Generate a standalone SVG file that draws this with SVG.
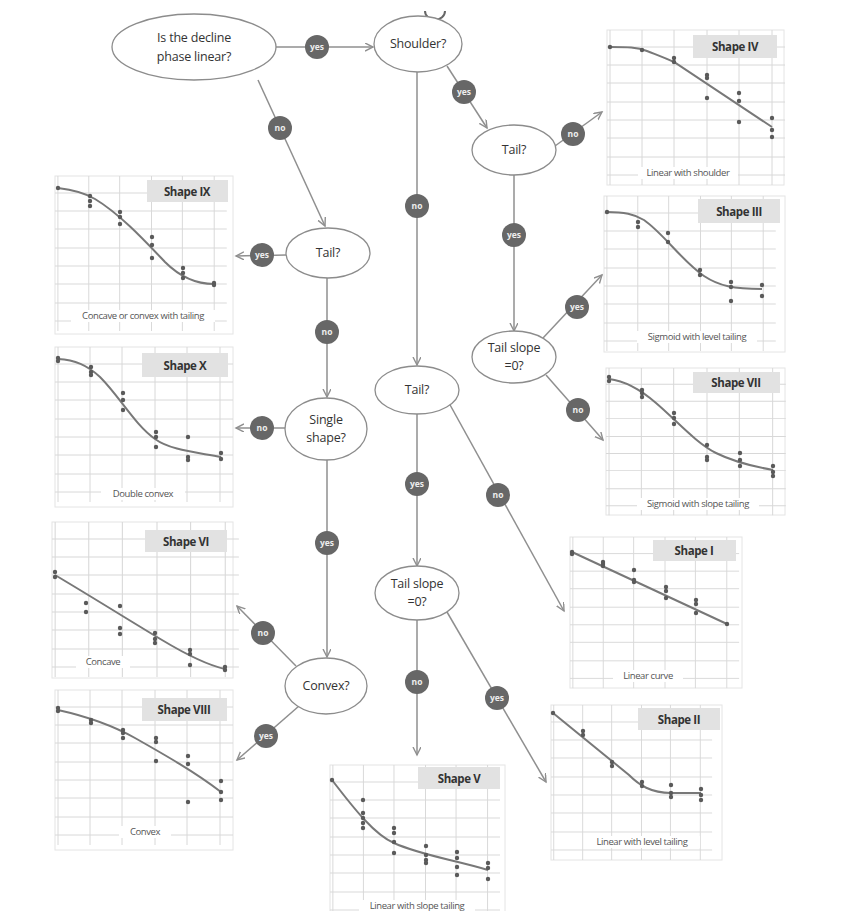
<svg xmlns="http://www.w3.org/2000/svg" xmlns:xlink="http://www.w3.org/1999/xlink" width="849" height="911" viewBox="0 0 849 911">
<style>
text{font-family:"Open Sans","Liberation Sans",sans-serif}
.node ellipse{fill:#fff;stroke:#8c8c8c;stroke-width:1.3}
.node text{font-size:12.5px;fill:#333;text-anchor:middle;letter-spacing:-0.2px}
.edge{stroke:#8f8f8f;stroke-width:1.5;fill:none;marker-end:url(#arr)}
.lbl circle{fill:#676767}
.lbl text{fill:#eee;font-size:8.5px;font-weight:700;text-anchor:middle}
.frame{fill:#fff;stroke:#e4e4e4;stroke-width:1}
.gl{stroke:#d8d8d8;stroke-width:1;fill:none}
.tbox{fill:#e2e2e2}
.ttl{font-size:11.5px;font-weight:700;fill:#333;text-anchor:middle;letter-spacing:-0.4px}
.curve{fill:none;stroke:#787878;stroke-width:2}
.pts circle{fill:#5a5a5a}
.capbg{fill:#fff}
.cap{font-size:9.5px;fill:#555;text-anchor:middle;letter-spacing:-0.4px}
</style>
<defs>
<marker id="arr" markerWidth="10" markerHeight="10" refX="8" refY="4" orient="auto" markerUnits="userSpaceOnUse">
<path d="M0,0 L8,4 L0,8" fill="none" stroke="#8f8f8f" stroke-width="1.4"/>
</marker>
<path id="gl" class="gl" d="M3,0V155 M35,0V155 M67,0V155 M100,0V155 M132,0V155 M165,0V155 M0,17H178 M0,35H178 M0,53H178 M0,72H178 M0,90H178 M0,108H178 M0,127H178 M0,145H178"/>
</defs>
<rect width="849" height="911" fill="#fff"/>
<path d="M425,11 A10,9 0 0 0 445,11" fill="none" stroke="#666" stroke-width="2"/>

<!-- charts -->
<g id="shape-iv" transform="translate(607,30)">
<rect class="frame" width="177" height="155"/><use xlink:href="#gl"/>
<rect class="tbox" x="86" y="5" width="84" height="23"/><text class="ttl" x="128" y="21">Shape IV</text>
<rect class="capbg" x="31" y="137" width="100" height="12"/><text class="cap" x="81" y="146">Linear with shoulder</text>
<path class="curve" d="M3,17 C20,17 30,17 40,21 C50,25 58,28 67,32 L165,97"/>
<g class="pts"><circle cx="3" cy="17" r="2.2"/><circle cx="35" cy="20" r="2.2"/><circle cx="67" cy="28" r="2.2"/><circle cx="67" cy="32" r="2.2"/><circle cx="100" cy="45" r="2.2"/><circle cx="100" cy="48" r="2.2"/><circle cx="100" cy="68" r="2.2"/><circle cx="132" cy="63" r="2.2"/><circle cx="132" cy="71" r="2.2"/><circle cx="132" cy="92" r="2.2"/><circle cx="165" cy="88" r="2.2"/><circle cx="165" cy="100" r="2.2"/><circle cx="165" cy="107" r="2.2"/></g>
</g>

<g id="shape-iii" transform="translate(604,196)">
<rect class="frame" width="181" height="156"/><use xlink:href="#gl" transform="scale(0.965,1)"/>
<rect class="tbox" x="94" y="3" width="82" height="24"/><text class="ttl" x="135" y="20">Shape III</text>
<rect class="capbg" x="33" y="135" width="120" height="12"/><text class="cap" x="93" y="144">Sigmoid with level tailing</text>
<path class="curve" d="M3,16 C20,16 30,18 40,24 C60,38 78,65 100,80 C115,90 130,93 158,93"/>
<g class="pts"><circle cx="3" cy="16" r="2.2"/><circle cx="34" cy="26" r="2.2"/><circle cx="34" cy="31" r="2.2"/><circle cx="64" cy="37" r="2.2"/><circle cx="64" cy="46" r="2.2"/><circle cx="96" cy="74" r="2.2"/><circle cx="96" cy="79" r="2.2"/><circle cx="127" cy="86" r="2.2"/><circle cx="127" cy="91" r="2.2"/><circle cx="127" cy="105" r="2.2"/><circle cx="158" cy="89" r="2.2"/><circle cx="158" cy="100" r="2.2"/></g>
</g>

<g id="shape-vii" transform="translate(606,368)">
<rect class="frame" width="179" height="147"/><use xlink:href="#gl" transform="scale(1.01,0.95)"/>
<rect class="tbox" x="87" y="4" width="87" height="21"/><text class="ttl" x="130" y="19">Shape VII</text>
<rect class="capbg" x="31" y="130" width="122" height="12"/><text class="cap" x="92" y="139">Sigmoid with slope tailing</text>
<path class="curve" d="M3,11 C20,13 35,22 50,35 C70,52 90,75 110,85 C130,95 150,99 167,102"/>
<g class="pts"><circle cx="3" cy="9" r="2.2"/><circle cx="3" cy="13" r="2.2"/><circle cx="36" cy="22" r="2.2"/><circle cx="36" cy="25" r="2.2"/><circle cx="36" cy="29" r="2.2"/><circle cx="68" cy="45" r="2.2"/><circle cx="68" cy="50" r="2.2"/><circle cx="68" cy="56" r="2.2"/><circle cx="101" cy="77" r="2.2"/><circle cx="101" cy="89" r="2.2"/><circle cx="101" cy="92" r="2.2"/><circle cx="134" cy="85" r="2.2"/><circle cx="134" cy="92" r="2.2"/><circle cx="134" cy="98" r="2.2"/><circle cx="167" cy="98" r="2.2"/><circle cx="167" cy="104" r="2.2"/><circle cx="167" cy="108" r="2.2"/></g>
</g>

<g id="shape-ix" transform="translate(55,176)">
<rect class="frame" width="178" height="158"/><use xlink:href="#gl" transform="scale(0.965,1)"/>
<rect class="tbox" x="92" y="4" width="81" height="22"/><text class="ttl" x="132" y="20">Shape IX</text>
<rect class="capbg" x="16" y="134" width="144" height="12"/><text class="cap" x="88" y="143">Concave or convex with tailing</text>
<path class="curve" d="M3,12 C20,14 30,17 40,23 C65,38 90,65 110,86 C125,101 140,108 159,108"/>
<g class="pts"><circle cx="3" cy="12" r="2.2"/><circle cx="35" cy="20" r="2.2"/><circle cx="35" cy="25" r="2.2"/><circle cx="35" cy="30" r="2.2"/><circle cx="65" cy="36" r="2.2"/><circle cx="65" cy="41" r="2.2"/><circle cx="65" cy="48" r="2.2"/><circle cx="97" cy="61" r="2.2"/><circle cx="97" cy="69" r="2.2"/><circle cx="97" cy="82" r="2.2"/><circle cx="128" cy="92" r="2.2"/><circle cx="128" cy="97" r="2.2"/><circle cx="128" cy="102" r="2.2"/><circle cx="159" cy="107" r="2.2"/><circle cx="159" cy="109" r="2.2"/></g>
</g>

<g id="shape-x" transform="translate(55,347)">
<rect class="frame" width="178" height="160"/><use xlink:href="#gl"/>
<rect class="tbox" x="87" y="6" width="86" height="24"/><text class="ttl" x="130" y="23">Shape X</text>
<rect class="capbg" x="46" y="141" width="84" height="12"/><text class="cap" x="88" y="150">Double convex</text>
<path class="curve" d="M3,12 C20,13 32,18 45,30 C65,50 80,78 100,92 C115,103 140,105 166,110"/>
<g class="pts"><circle cx="3" cy="11" r="2.2"/><circle cx="3" cy="14" r="2.2"/><circle cx="36" cy="20" r="2.2"/><circle cx="36" cy="25" r="2.2"/><circle cx="36" cy="28" r="2.2"/><circle cx="68" cy="46" r="2.2"/><circle cx="68" cy="53" r="2.2"/><circle cx="68" cy="63" r="2.2"/><circle cx="101" cy="85" r="2.2"/><circle cx="101" cy="90" r="2.2"/><circle cx="101" cy="100" r="2.2"/><circle cx="133" cy="90" r="2.2"/><circle cx="133" cy="110" r="2.2"/><circle cx="133" cy="113" r="2.2"/><circle cx="166" cy="106" r="2.2"/><circle cx="166" cy="112" r="2.2"/></g>
</g>

<g id="shape-vi" transform="translate(52,522)">
<rect class="frame" width="181" height="156"/><use xlink:href="#gl" transform="scale(1.05,1)"/>
<rect class="tbox" x="93" y="8" width="82" height="22"/><text class="ttl" x="134" y="24">Shape VI</text>
<rect class="capbg" x="24" y="134" width="54" height="12"/><text class="cap" x="51" y="143">Concave</text>
<path class="curve" d="M3,53 C40,75 80,100 110,118 C135,133 155,143 173,147"/>
<g class="pts"><circle cx="3" cy="50" r="2.2"/><circle cx="3" cy="55" r="2.2"/><circle cx="34" cy="81" r="2.2"/><circle cx="34" cy="90" r="2.2"/><circle cx="68" cy="84" r="2.2"/><circle cx="68" cy="106" r="2.2"/><circle cx="68" cy="112" r="2.2"/><circle cx="103" cy="111" r="2.2"/><circle cx="103" cy="117" r="2.2"/><circle cx="103" cy="121" r="2.2"/><circle cx="138" cy="128" r="2.2"/><circle cx="138" cy="132" r="2.2"/><circle cx="138" cy="143" r="2.2"/><circle cx="173" cy="145" r="2.2"/><circle cx="173" cy="148" r="2.2"/></g>
</g>

<g id="shape-viii" transform="translate(55,690)">
<rect class="frame" width="178" height="160"/><use xlink:href="#gl"/>
<rect class="tbox" x="87" y="8" width="85" height="23"/><text class="ttl" x="129" y="24">Shape VIII</text>
<rect class="capbg" x="64" y="136" width="52" height="12"/><text class="cap" x="90" y="145">Convex</text>
<path class="curve" d="M3,20 C30,26 55,34 80,48 C110,65 140,82 166,102"/>
<g class="pts"><circle cx="3" cy="18" r="2.2"/><circle cx="3" cy="21" r="2.2"/><circle cx="36" cy="30" r="2.2"/><circle cx="36" cy="33" r="2.2"/><circle cx="68" cy="40" r="2.2"/><circle cx="68" cy="43" r="2.2"/><circle cx="68" cy="48" r="2.2"/><circle cx="101" cy="48" r="2.2"/><circle cx="101" cy="52" r="2.2"/><circle cx="101" cy="71" r="2.2"/><circle cx="133" cy="66" r="2.2"/><circle cx="133" cy="74" r="2.2"/><circle cx="133" cy="112" r="2.2"/><circle cx="166" cy="91" r="2.2"/><circle cx="166" cy="102" r="2.2"/><circle cx="166" cy="110" r="2.2"/></g>
</g>

<g id="shape-i" transform="translate(570,537)">
<rect class="frame" width="172" height="151"/><use xlink:href="#gl" transform="scale(0.95,0.975)"/>
<rect class="tbox" x="83" y="3" width="83" height="21"/><text class="ttl" x="124" y="18">Shape I</text>
<rect class="capbg" x="43" y="133" width="70" height="12"/><text class="cap" x="78" y="142">Linear curve</text>
<path class="curve" d="M2,15 L157,87"/>
<g class="pts"><circle cx="2" cy="15" r="2.2"/><circle cx="2" cy="17" r="2.2"/><circle cx="33" cy="25" r="2.2"/><circle cx="33" cy="27" r="2.2"/><circle cx="33" cy="29" r="2.2"/><circle cx="64" cy="33" r="2.2"/><circle cx="64" cy="43" r="2.2"/><circle cx="64" cy="45" r="2.2"/><circle cx="96" cy="50" r="2.2"/><circle cx="96" cy="54" r="2.2"/><circle cx="96" cy="61" r="2.2"/><circle cx="126" cy="63" r="2.2"/><circle cx="126" cy="67" r="2.2"/><circle cx="126" cy="76" r="2.2"/><circle cx="157" cy="87" r="2.2"/></g>
</g>

<g id="shape-ii" transform="translate(551,705)">
<rect class="frame" width="171" height="155"/><use xlink:href="#gl" transform="scale(0.905,1)"/>
<rect class="tbox" x="87" y="3" width="82" height="22"/><text class="ttl" x="128" y="19">Shape II</text>
<rect class="capbg" x="33" y="131" width="116" height="12"/><text class="cap" x="91" y="140">Linear with level tailing</text>
<path class="curve" d="M2,8 L78,70 C88,80 100,88 120,88 L150,88"/>
<g class="pts"><circle cx="2" cy="8" r="2.2"/><circle cx="32" cy="26" r="2.2"/><circle cx="32" cy="30" r="2.2"/><circle cx="61" cy="57" r="2.2"/><circle cx="61" cy="61" r="2.2"/><circle cx="91" cy="77" r="2.2"/><circle cx="91" cy="81" r="2.2"/><circle cx="120" cy="80" r="2.2"/><circle cx="120" cy="88" r="2.2"/><circle cx="120" cy="92" r="2.2"/><circle cx="150" cy="84" r="2.2"/><circle cx="150" cy="90" r="2.2"/><circle cx="150" cy="95" r="2.2"/></g>
</g>

<g id="shape-v" transform="translate(330,765)">
<rect class="frame" width="175" height="150"/><use xlink:href="#gl" transform="scale(0.955,1)"/>
<rect class="tbox" x="88" y="2" width="82" height="22"/><text class="ttl" x="129" y="18">Shape V</text>
<rect class="capbg" x="29" y="135" width="116" height="12"/><text class="cap" x="87" y="144">Linear with slope tailing</text>
<path class="curve" d="M2,15 C25,45 45,70 64,78 C90,90 125,95 158,105"/>
<g class="pts"><circle cx="2" cy="15" r="2.2"/><circle cx="33" cy="35" r="2.2"/><circle cx="33" cy="48" r="2.2"/><circle cx="33" cy="53" r="2.2"/><circle cx="33" cy="58" r="2.2"/><circle cx="33" cy="63" r="2.2"/><circle cx="64" cy="63" r="2.2"/><circle cx="64" cy="68" r="2.2"/><circle cx="64" cy="77" r="2.2"/><circle cx="64" cy="88" r="2.2"/><circle cx="96" cy="81" r="2.2"/><circle cx="96" cy="90" r="2.2"/><circle cx="96" cy="95" r="2.2"/><circle cx="96" cy="98" r="2.2"/><circle cx="127" cy="87" r="2.2"/><circle cx="127" cy="93" r="2.2"/><circle cx="127" cy="102" r="2.2"/><circle cx="127" cy="110" r="2.2"/><circle cx="158" cy="98" r="2.2"/><circle cx="158" cy="103" r="2.2"/><circle cx="158" cy="114" r="2.2"/></g>
</g>

<!-- connectors -->
<g id="connectors">
<path class="edge" d="M276,47 H373"/>
<path class="edge" d="M258,80 L325,226"/>
<path class="edge" d="M447,66 L487,128"/>
<path class="edge" d="M417,72 V365"/>
<path class="edge" d="M555,146 L602,112"/>
<path class="edge" d="M514,175 V331"/>
<path class="edge" d="M543,338 L602,275"/>
<path class="edge" d="M546,375 L603,440"/>
<path class="edge" d="M286,255 L236,256"/>
<path class="edge" d="M327,278 V397"/>
<path class="edge" d="M285,428 H236"/>
<path class="edge" d="M327,460 V657"/>
<path class="edge" d="M296,666 L237,606"/>
<path class="edge" d="M299,706 L237,760"/>
<path class="edge" d="M417,414 V566"/>
<path class="edge" d="M449,403 L564,611"/>
<path class="edge" d="M417,620 V755"/>
<path class="edge" d="M447,612 L546,782"/>
<g class="lbl"><circle cx="317" cy="47" r="12"/><text x="317" y="50">yes</text></g>
<g class="lbl"><circle cx="280" cy="128" r="12"/><text x="280" y="131">no</text></g>
<g class="lbl"><circle cx="464" cy="92" r="12"/><text x="464" y="95">yes</text></g>
<g class="lbl"><circle cx="417" cy="206" r="12"/><text x="417" y="209">no</text></g>
<g class="lbl"><circle cx="573" cy="134" r="12"/><text x="573" y="137">no</text></g>
<g class="lbl"><circle cx="514" cy="235" r="12"/><text x="514" y="238">yes</text></g>
<g class="lbl"><circle cx="577" cy="307" r="12"/><text x="577" y="310">yes</text></g>
<g class="lbl"><circle cx="578" cy="410" r="12"/><text x="578" y="413">no</text></g>
<g class="lbl"><circle cx="262" cy="255" r="12"/><text x="262" y="258">yes</text></g>
<g class="lbl"><circle cx="327" cy="332" r="12"/><text x="327" y="335">no</text></g>
<g class="lbl"><circle cx="262" cy="428" r="12"/><text x="262" y="431">no</text></g>
<g class="lbl"><circle cx="327" cy="543" r="12"/><text x="327" y="546">yes</text></g>
<g class="lbl"><circle cx="263" cy="633" r="12"/><text x="263" y="636">no</text></g>
<g class="lbl"><circle cx="266" cy="736" r="12"/><text x="266" y="739">yes</text></g>
<g class="lbl"><circle cx="417" cy="484" r="12"/><text x="417" y="487">yes</text></g>
<g class="lbl"><circle cx="498" cy="495" r="12"/><text x="498" y="498">no</text></g>
<g class="lbl"><circle cx="417" cy="682" r="12"/><text x="417" y="685">no</text></g>
<g class="lbl"><circle cx="497" cy="698" r="12"/><text x="497" y="701">yes</text></g>
</g>

<!-- nodes -->
<g id="node-linear" class="node"><ellipse cx="194" cy="47" rx="82" ry="33"/><text x="194" y="42">Is the decline</text><text x="194" y="61">phase linear?</text></g>
<g id="node-shoulder" class="node"><ellipse cx="418" cy="44" rx="44" ry="28"/><text x="418" y="48">Shoulder?</text></g>
<g id="node-tail-r" class="node"><ellipse cx="514" cy="150" rx="42" ry="25"/><text x="514" y="154">Tail?</text></g>
<g id="node-slope-r" class="node"><ellipse cx="514" cy="357" rx="42" ry="26"/><text x="514" y="352">Tail slope</text><text x="514" y="370">=0?</text></g>
<g id="node-tail-l" class="node"><ellipse cx="328" cy="253" rx="42" ry="25"/><text x="328" y="257">Tail?</text></g>
<g id="node-single" class="node"><ellipse cx="326" cy="429" rx="41" ry="31"/><text x="326" y="424">Single</text><text x="326" y="442">shape?</text></g>
<g id="node-convex" class="node"><ellipse cx="326" cy="686" rx="41" ry="28"/><text x="326" y="690">Convex?</text></g>
<g id="node-tail-m" class="node"><ellipse cx="417" cy="390" rx="42" ry="24"/><text x="417" y="394">Tail?</text></g>
<g id="node-slope-m" class="node"><ellipse cx="417" cy="593" rx="42" ry="27"/><text x="417" y="588">Tail slope</text><text x="417" y="606">=0?</text></g>
</svg>
